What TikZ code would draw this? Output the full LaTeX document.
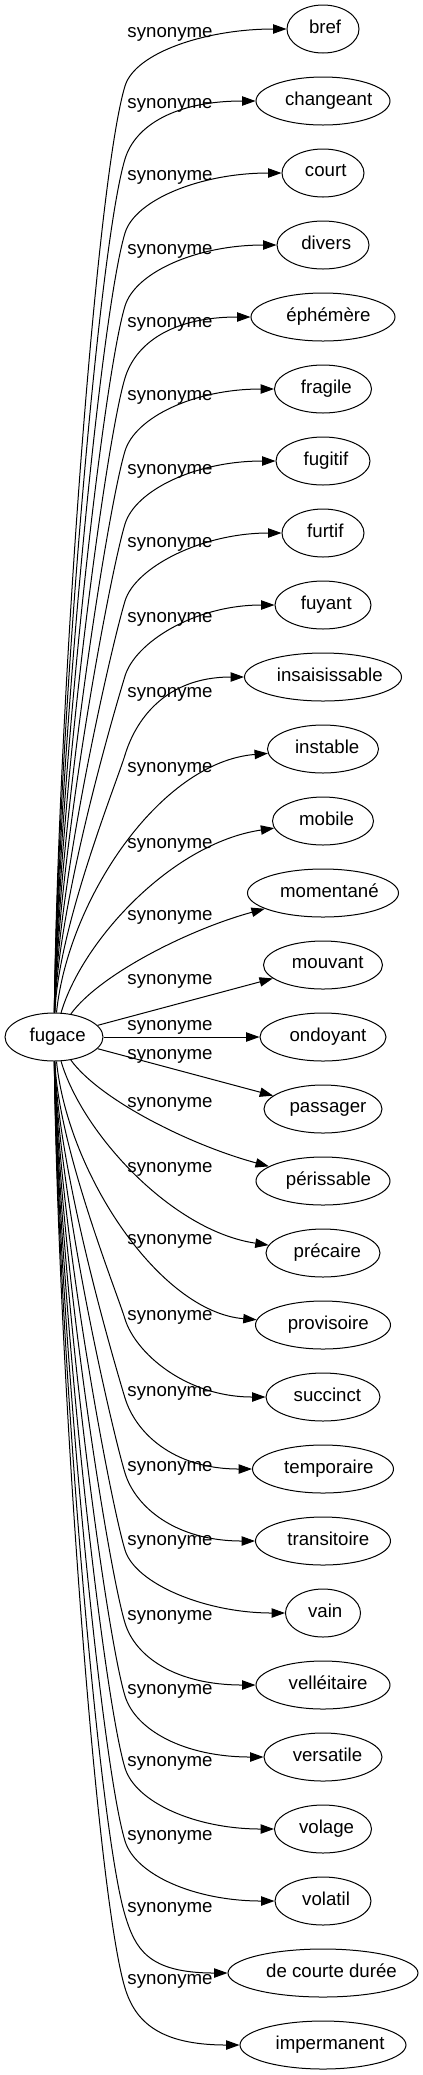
\documentclass[tikz,border=0pt]{standalone}
\usepackage{fontspec}
\setmainfont{Liberation Sans}
\usetikzlibrary{arrows.meta,shapes.geometric,calc}
\newcommand\ntext[1]{\setbox0\hbox{#1}\makebox[0pt]{\kern0.13\wd0\rule[-0.26em]{0pt}{0.9em}#1}}
\begin{document}
\begin{tikzpicture}[x=0.75pt,y=-0.75pt,
  font=\fontsize{14pt}{16.8pt}\selectfont,
  word/.style={draw, ellipse, line width=0.75pt, minimum height=36pt, inner sep=0pt},
  syn/.style={-{Triangle[length=10pt,width=7pt]}, line width=0.75pt},
  lab/.style={anchor=base, inner sep=0pt}]
\useasboundingbox (0,0) rectangle (423,2075);
\node[word, minimum width=73.5pt] (fugace) at (54,1037) {\ntext{fugace}};
\foreach \txt/\ww [count=\i from 0] in {bref/54, changeant/100.5, court/61.5, divers/69, éphémère/108, fragile/72.75, fugitif/70.5, furtif/61.5, fuyant/72, insaisissable/117.75, instable/83.25, mobile/75.75, momentané/113.25, mouvant/89.25, ondoyant/94.5, passager/88.5, périssable/100.5, précaire/85.5, provisoire/101.25, succinct/85.5, temporaire/105.75, transitoire/101.25, vain/56.25, velléitaire/100.5, versatile/88.5, volage/72.75, volatil/72, de courte durée/142.5, impermanent/124.5}
  \node[word, minimum width=\ww pt] (n\i) at (323,{29+72*\i}) {\ntext{\txt}};
\foreach \i/\ly in {0/32, 1/103, 2/175, 3/249, 4/322, 5/395, 6/469, 7/542, 8/617, 9/692, 10/767, 11/843, 12/915, 13/979, 14/1025, 15/1054, 16/1102, 17/1167, 18/1239, 19/1315, 20/1391, 21/1466, 22/1540, 23/1615, 24/1689, 25/1761, 26/1835, 27/1907, 28/1979}
  \node[lab] (l\i) at (170,{\ly+5}) {synonyme};
\foreach \i in {0,...,28} {
  \pgfmathtruncatemacro\myj{abs(14-\i)}
  \pgfmathtruncatemacro\mys{\i<14 ? -1 : 1}
  \ifnum\myj<2
    \draw[syn] (fugace) -- (n\i);
  \else\ifnum\myj<5
    \ifcase\numexpr\myj-2\relax
      \def\myax{100}\def\myay{63}\def\mybx{190}\def\myby{108}\or
      \def\myax{82}\def\myay{96}\def\mybx{172}\def\myby{194}\or
      \def\myax{68}\def\myay{137}\def\mybx{160}\def\myby{275}\fi
    \pgfmathsetmacro\myayy{1037+(\mys)*\myay}
    \pgfmathsetmacro\mybyy{1037+(\mys)*\myby}
    \draw[syn] (fugace) .. controls (\myax,\myayy) and (\mybx,\mybyy) .. (n\i);
  \else
    \ifcase\numexpr\myj-5\relax \def\myk{78}\or\def\myk{71}\or\def\myk{68}\or\def\myk{63}\or\def\myk{62}\or\def\myk{61}\or\def\myk{61}\or\def\myk{60}\or\def\myk{58}\or\def\myk{57}\fi
    \pgfmathsetmacro\myD{72*\myj-\myk}
    \pgfmathsetmacro\myLA{\myD-24}
    \pgfmathsetmacro\mydA{0.108*\myLA}
    \pgfmathsetmacro\myKy{1037+(\mys)*\myD}
    \pgfmathsetmacro\myay{1037+(\mys)*(24+0.33*\myLA)}
    \pgfmathsetmacro\mybx{125-0.29*\mydA}
    \pgfmathsetmacro\myby{1037+(\mys)*(\myD-0.96*\mydA)}
    \pgfmathsetmacro\mycy{1037+(\mys)*(\myD+33.6)}
    \draw[syn] (fugace) .. controls (58,\myay) and (\mybx,\myby) .. (125,\myKy) .. controls (135.2,\mycy) and ($(n\i.west)+(-80,0)$) .. (n\i);
  \fi\fi
}
\end{tikzpicture}
\end{document}
